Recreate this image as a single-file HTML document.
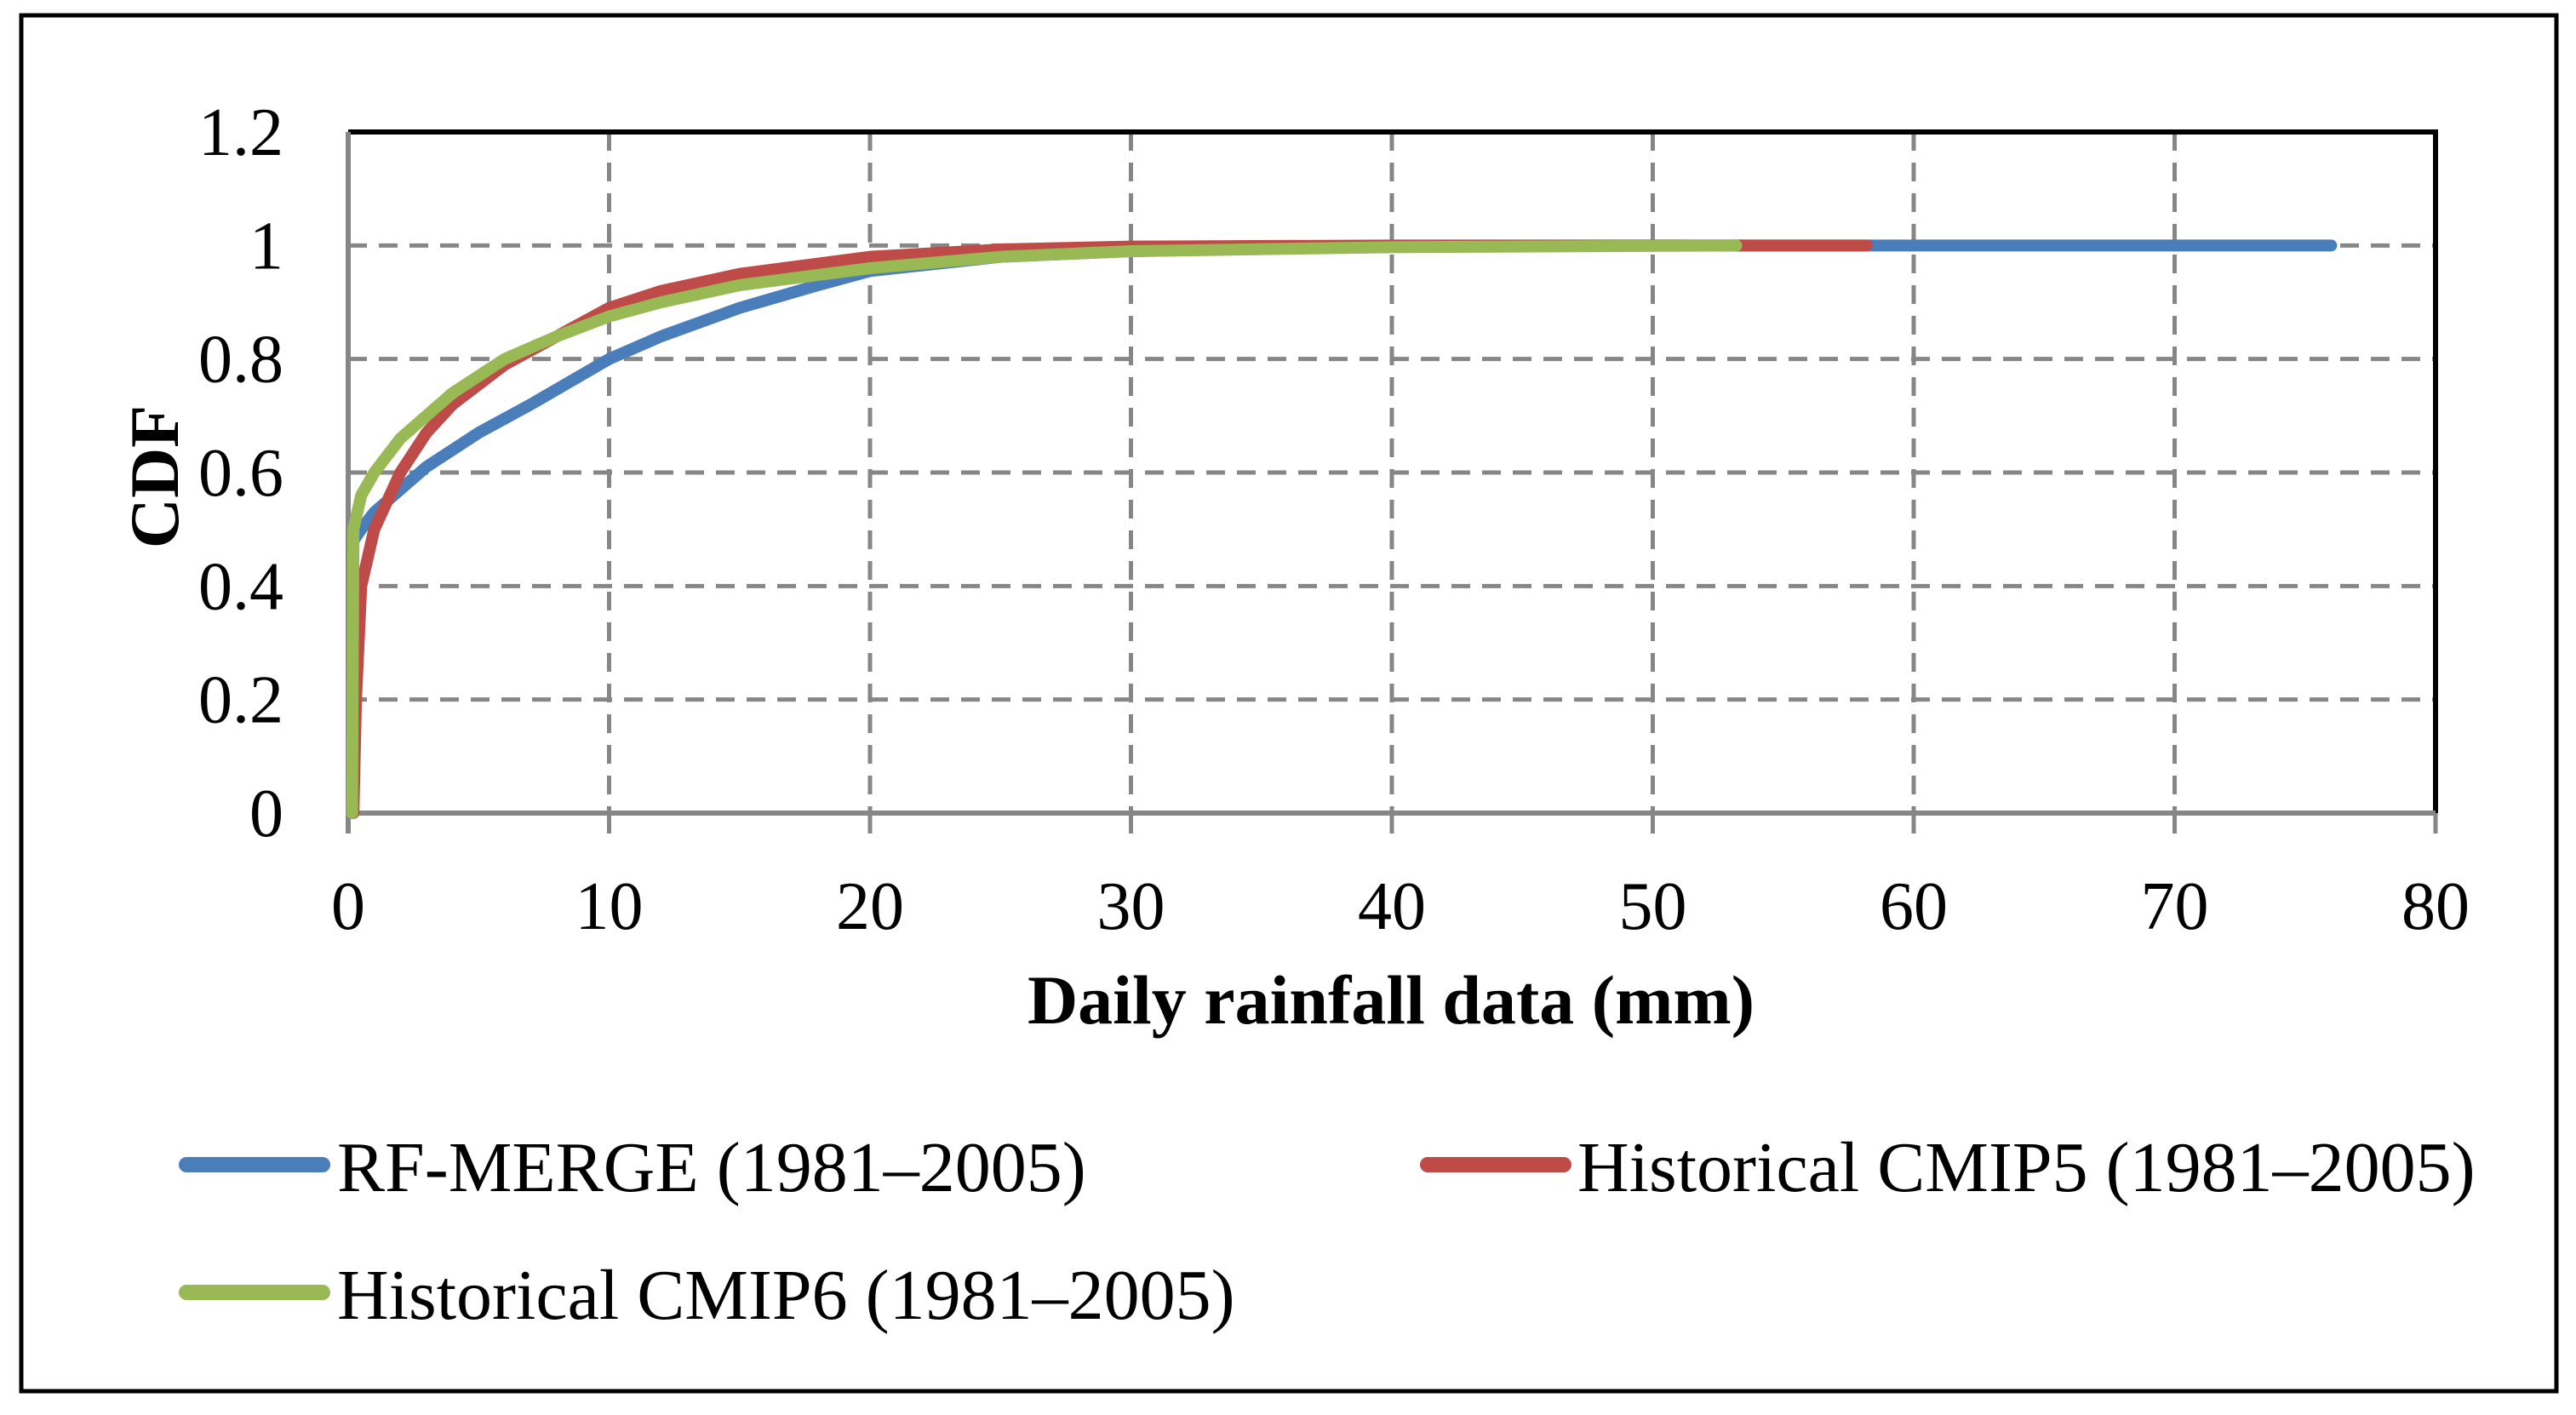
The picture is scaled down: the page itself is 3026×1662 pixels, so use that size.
<!DOCTYPE html>
<html><head><meta charset="utf-8"><style>
html,body{margin:0;padding:0;background:#fff;}
svg{display:block;font-family:"Liberation Serif",serif;}
</style></head><body>
<svg id="chart" width="3026" height="1662" viewBox="0 0 3026 1662">
<rect x="25" y="18" width="2978" height="1616" fill="#fff" stroke="#000" stroke-width="5"/>
<g id="grid"></g><g id="axes"></g><g id="series"></g><g id="labels"></g>
<text x="190" y="560" font-size="82" font-weight="bold" text-anchor="middle" transform="rotate(-90 190 560)" dominant-baseline="middle">CDF</text>
<text x="1634" y="1202" font-size="82" font-weight="bold" text-anchor="middle">Daily rainfall data (mm)</text>
<g>
<line x1="219" y1="1368" x2="379" y2="1368" stroke="#4a7ebb" stroke-width="18" stroke-linecap="round"/>
<text x="396" y="1399" font-size="84">RF-MERGE (1981–2005)</text>
<line x1="1677" y1="1368" x2="1837" y2="1368" stroke="#be4b48" stroke-width="18" stroke-linecap="round"/>
<text x="1853" y="1399" font-size="84">Historical CMIP5 (1981–2005)</text>
<line x1="219" y1="1518" x2="379" y2="1518" stroke="#98b954" stroke-width="18" stroke-linecap="round"/>
<text x="396" y="1549" font-size="84">Historical CMIP6 (1981–2005)</text>
</g>
</svg>
<script>
const xTicks=[0,10,20,30,40,50,60,70,80];
const yTicks=[0,0.2,0.4,0.6,0.8,1,1.2];
const yTickLabels=["0","0.2","0.4","0.6","0.8","1","1.2"];
const rfX=[0.15,0.2,0.5,1,2,3,5,7,10,12,15,18,20,25,30,40,50,76];
const rfY=[0,0.48,0.5,0.53,0.57,0.61,0.67,0.72,0.8,0.84,0.89,0.93,0.955,0.98,0.99,0.998,1,1];
const c5X=[0.2,0.3,0.5,1,2,3,4,6,8,10,12,15,20,25,30,40,58.2];
const c5Y=[0,0.2,0.4,0.5,0.6,0.67,0.72,0.79,0.84,0.89,0.92,0.95,0.98,0.993,0.998,1,1];
const c6X=[0.15,0.2,0.5,1,2,4,6,8,10,12,15,20,25,30,40,53.2];
const c6Y=[0,0.5,0.56,0.6,0.66,0.74,0.8,0.84,0.875,0.9,0.93,0.96,0.98,0.99,0.997,1];
const NS="http://www.w3.org/2000/svg";
const X0=409,X1=2861,Y0=955,Y1=155;
const sx=v=>X0+(X1-X0)*v/80, sy=v=>Y0-(Y0-Y1)*v/1.2;
function mk(tag,attrs,parent){const e=document.createElementNS(NS,tag);for(const k in attrs)e.setAttribute(k,attrs[k]);document.getElementById(parent).appendChild(e);return e;}
xTicks.forEach(t=>{
  if(t>0&&t<80){const g=mk('line',{x1:sx(t),x2:sx(t),y1:Y1,y2:Y0,stroke:'#868686','stroke-width':5,'stroke-dasharray':'22,14'},'grid');
  
  }
  const tk=mk('line',{x1:sx(t),x2:sx(t),y1:Y0,y2:Y0+24,stroke:'#868686','stroke-width':5},'axes');
  
  
  const l=mk('text',{x:sx(t),y:1091,'font-size':80,'text-anchor':'middle'},'labels');l.textContent=t;
  
  
});
yTicks.forEach((t,i)=>{
  if(t>0&&t<1.2){const g=mk('line',{x1:X0,x2:X1,y1:sy(t),y2:sy(t),stroke:'#868686','stroke-width':5,'stroke-dasharray':'22,14'},'grid');
  
  }
  const l=mk('text',{x:333,y:sy(t)+27,'font-size':80,'text-anchor':'end'},'labels');l.textContent=yTickLabels[i];
  
  
});
const frame=mk('polyline',{points:`${X0},${Y1} ${X1},${Y1} ${X1},${Y0}`,fill:'none',stroke:'#000','stroke-width':6},'axes');


const yax=mk('line',{x1:X0,x2:X0,y1:Y1,y2:Y0+24,stroke:'#868686','stroke-width':6},'axes');


const xax=mk('line',{x1:X0,x2:X1,y1:Y0,y2:Y0,stroke:'#868686','stroke-width':6},'axes');


function series(xs,ys,color,name){
  const pts=xs.map((x,i)=>sx(x)+','+sy(ys[i])).join(' ');
  const p=mk('polyline',{points:pts,fill:'none',stroke:color,'stroke-width':14,'stroke-linecap':'round','stroke-linejoin':'round'},'series');
  
  
}
series(rfX,rfY,'#4a7ebb','series-rf-merge');
series(c5X,c5Y,'#be4b48','series-cmip5');
series(c6X,c6Y,'#98b954','series-cmip6');
</script>
</body></html>
